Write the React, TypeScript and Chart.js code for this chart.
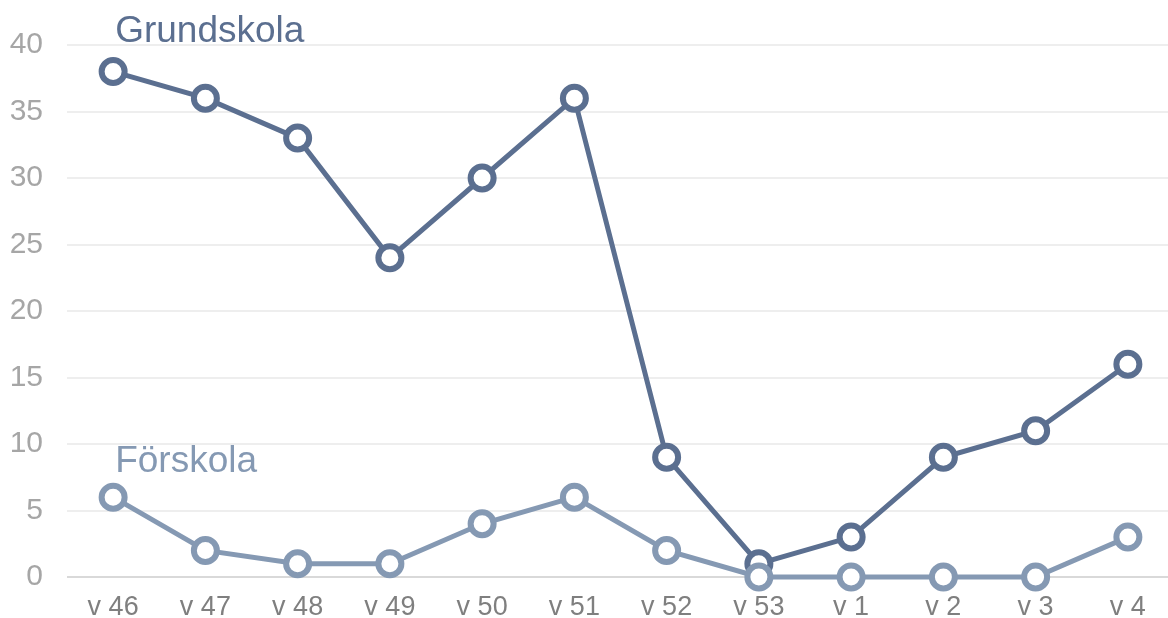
import React, { useEffect, useRef } from "react";
import { Chart, registerables } from "chart.js";

Chart.register(...registerables);

const categories = ["v 46", "v 47", "v 48", "v 49", "v 50", "v 51", "v 52", "v 53", "v 1", "v 2", "v 3", "v 4"];
const grundskola = [38, 36, 33, 24, 30, 36, 9, 1, 3, 9, 11, 16];
const forskola = [6, 2, 1, 1, 4, 6, 2, 0, 0, 0, 0, 3];
const seriesNames = ["Grundskola", "Förskola"];
const yTicks = [0, 5, 10, 15, 20, 25, 30, 35, 40];

const DARK = "#5b6f90";
const LIGHT = "#8599b3";
const FONT = "'Liberation Sans', Arial, sans-serif";
const LABEL_OFFSETS = [29.5, 25];

const textPlugin = {
  id: "axisAndSeriesText",
  afterDatasetsDraw(chart: any) {
    const ctx = chart.ctx as CanvasRenderingContext2D;
    const ys = chart.scales.y;
    const xs = chart.scales.x;
    ctx.save();
    ctx.textBaseline = "middle";
    ctx.font = `30px ${FONT}`;
    ctx.fillStyle = "#a6a6a6";
    ctx.textAlign = "right";
    yTicks.forEach((v) => {
      ctx.fillText(String(v), 43, ys.getPixelForValue(v));
    });
    ctx.font = `27px ${FONT}`;
    ctx.fillStyle = "#7f7f7f";
    ctx.textAlign = "center";
    categories.forEach((c, i) => {
      ctx.fillText(c, xs.getPixelForValue(i), ys.bottom + 31);
    });
    ctx.font = `37px ${FONT}`;
    ctx.textBaseline = "alphabetic";
    ctx.textAlign = "left";
    chart.data.datasets.forEach((ds: any, i: number) => {
      const p = chart.getDatasetMeta(i).data[0];
      if (!p) return;
      ctx.fillStyle = ds.borderColor;
      ctx.fillText(ds.label, p.x + 2, p.y - LABEL_OFFSETS[i]);
    });
    ctx.restore();
  },
};

export default function App() {
  const ref = useRef<HTMLCanvasElement>(null);
  useEffect(() => {
    document.body.style.margin = "0";
    const mk = (label: string, data: number[], color: string, order: number) => ({
      label,
      data,
      borderColor: color,
      backgroundColor: "#ffffff",
      pointBackgroundColor: "#ffffff",
      pointBorderColor: color,
      borderWidth: 5,
      pointBorderWidth: 6,
      pointRadius: 11.5,
      order,
      clip: false as any,
    });
    const chart = new Chart(ref.current!, {
      type: "line",
      data: {
        labels: categories,
        datasets: [mk(seriesNames[0], grundskola, DARK, 1), mk(seriesNames[1], forskola, LIGHT, 0)],
      },
      options: {
        animation: false,
        responsive: false,
        layout: { autoPadding: false, padding: { top: 45, right: 0, left: 0, bottom: 0 } },
        plugins: { legend: { display: false }, tooltip: { enabled: false } },
        scales: {
          x: {
            offset: true,
            grid: { display: false, drawTicks: false },
            border: { display: false },
            ticks: { display: false },
            afterFit(scale: any) {
              scale.height = 41;
            },
          },
          y: {
            min: 0,
            max: 40,
            afterBuildTicks(scale: any) {
              scale.ticks = yTicks.map((v) => ({ value: v }));
            },
            grid: {
              drawTicks: false,
              color: (c: any) => (c.tick && c.tick.value === 0 ? "#d9d9d9" : "#eeeeee"),
              lineWidth: 2,
            },
            border: { display: false },
            ticks: { display: false },
            afterFit(scale: any) {
              scale.width = 67;
            },
          },
        },
      },
      plugins: [textPlugin],
    });
    return () => chart.destroy();
  }, []);
  return (
    <div style={{ position: "absolute", left: 0, top: 0, width: 1168, height: 618, background: "#fff", overflow: "hidden" }}>
      <canvas ref={ref} width={1174} height={618} style={{ display: "block" }} />
    </div>
  );
}
